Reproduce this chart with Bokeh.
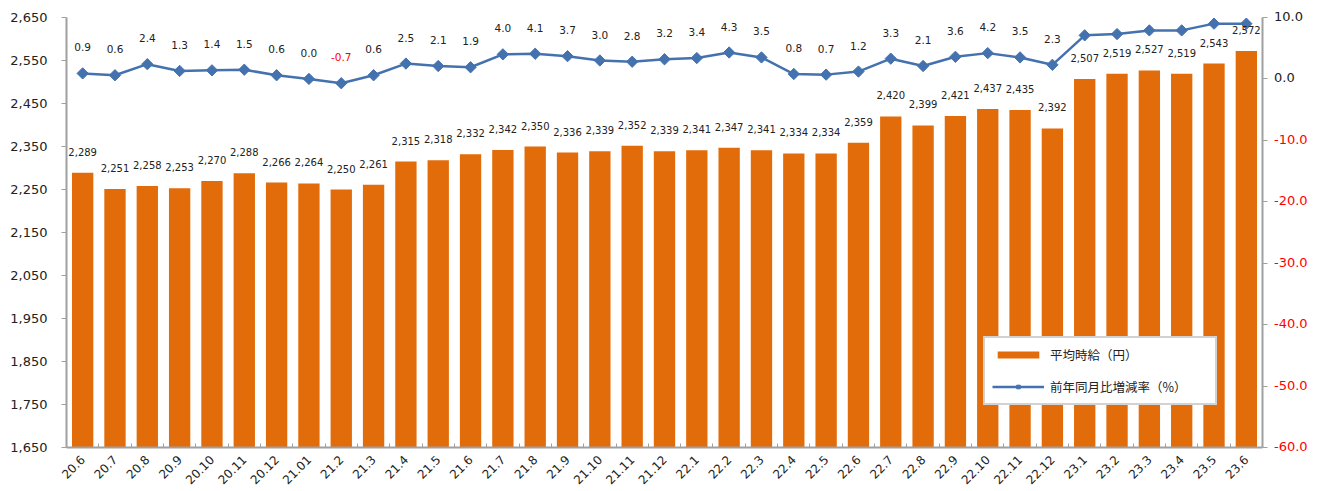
import math
from bokeh.plotting import figure
from bokeh.layouts import row
from bokeh.models import (Range1d, LinearAxis, FixedTicker, ColumnDataSource,
                          Legend, LegendItem, NumeralTickFormatter, Div)
from bokeh.core.properties import value
from bokeh.embed import file_html
from bokeh.resources import INLINE

months = ["20.6", "20.7", "20.8", "20.9", "20.10", "20.11", "20.12", "21.01", "21.2", "21.3",
          "21.4", "21.5", "21.6", "21.7", "21.8", "21.9", "21.10", "21.11", "21.12",
          "22.1", "22.2", "22.3", "22.4", "22.5", "22.6", "22.7", "22.8", "22.9", "22.10",
          "22.11", "22.12", "23.1", "23.2", "23.3", "23.4", "23.5", "23.6"]
wage = [2289, 2251, 2258, 2253, 2270, 2288, 2266, 2264, 2250, 2261,
        2315, 2318, 2332, 2342, 2350, 2336, 2339, 2352, 2339,
        2341, 2347, 2341, 2334, 2334, 2359, 2420, 2399, 2421, 2437,
        2435, 2392, 2507, 2519, 2527, 2519, 2543, 2572]
rate = [0.9, 0.6, 2.4, 1.3, 1.4, 1.5, 0.6, 0.0, -0.7, 0.6,
        2.5, 2.1, 1.9, 4.0, 4.1, 3.7, 3.0, 2.8, 3.2,
        3.4, 4.3, 3.5, 0.8, 0.7, 1.2, 3.3, 2.1, 3.6, 4.2,
        3.5, 2.3, 7.1, 7.3, 7.9, 7.9, 9.0, 9.0]
left_ticks = [1650, 1750, 1850, 1950, 2050, 2150, 2250, 2350, 2450, 2550, 2650]
right_ticks = [-60, -50, -40, -30, -20, -10, 0, 10]

FONT = "DejaVu Sans"
ORANGE = "#E36C0A"
BLUE = "#4472AE"
AXIS = "#A0A0A0"

R_MIN, R_MAX = -60, 10
FRAME_TOP, FRAME_H, TOTAL_H = 17, 430, 491

n = len(months)
xs = [i + 0.5 for i in range(n)]

src = ColumnDataSource(dict(
    x=xs, wage=wage, rate=rate,
    wage_lbl=[f"{w:,}" for w in wage],
    rate_lbl=[f"{r:.1f}" for r in rate],
    rate_col=["#FF0000" if r < 0 else "#222222" for r in rate],
))

p = figure(width=1270, height=TOTAL_H, output_backend="svg", toolbar_location=None,
           x_range=Range1d(0, n), y_range=Range1d(1650, 2650),
           min_border_left=66, min_border_right=8, min_border_top=FRAME_TOP,
           min_border_bottom=TOTAL_H - FRAME_TOP - FRAME_H)
p.outline_line_color = None
p.grid.visible = False
p.background_fill_color = "white"

p.extra_y_ranges = {"pct": Range1d(R_MIN, R_MAX)}

bars = p.vbar(x="x", top="wage", bottom=1650, width=0.66, source=src,
              fill_color=ORANGE, line_color=None)
line = p.line(x="x", y="rate", source=src, y_range_name="pct", line_color=BLUE, line_width=2.5)
pts = p.scatter(x="x", y="rate", source=src, y_range_name="pct", marker="square",
                angle=math.pi / 4, size=8, fill_color=BLUE, line_color=BLUE)

p.text(x="x", y="wage", text="wage_lbl", source=src, text_align="center",
       text_baseline="middle", y_offset=-21, text_font=value(FONT),
       text_font_size="10px", text_color="#222222")
p.text(x="x", y="rate", text="rate_lbl", source=src, y_range_name="pct",
       text_align="center", text_baseline="middle", y_offset=-26,
       text_font=value(FONT), text_font_size="10.5px", text_color="rate_col")

# left axis
ya = p.yaxis[0]
ya.ticker = FixedTicker(ticks=left_ticks)
ya.formatter = NumeralTickFormatter(format="0,0")
ya.axis_line_color = AXIS
ya.axis_line_width = 2
ya.major_tick_line_color = AXIS
ya.major_tick_in = 0
ya.major_tick_out = 5
ya.minor_tick_line_color = None
ya.major_label_text_font = FONT
ya.major_label_text_font_size = "13px"
ya.major_label_text_color = "#222222"
ya.major_label_standoff = 14

# x axis
xa = p.xaxis[0]
xa.ticker = FixedTicker(ticks=xs, minor_ticks=list(range(n + 1)))
xa.major_label_overrides = {x: m for x, m in zip(xs, months)}
xa.major_label_orientation = math.pi / 4
xa.axis_line_color = AXIS
xa.axis_line_width = 2
xa.major_tick_line_color = None
xa.minor_tick_line_color = AXIS
xa.minor_tick_in = 4
xa.minor_tick_out = 0
xa.major_label_text_font = FONT
xa.major_label_text_font_size = "12px"
xa.major_label_text_color = "#222222"
xa.major_label_standoff = 4

# right axis: line and ticks only (labels in the strip beside the plot)
ra = LinearAxis(y_range_name="pct", ticker=FixedTicker(ticks=right_ticks))
ra.major_label_overrides = {t: "" for t in right_ticks}
ra.axis_line_color = AXIS
ra.axis_line_width = 2
ra.major_tick_line_color = AXIS
ra.major_tick_in = 0
ra.major_tick_out = 5
ra.minor_tick_line_color = None
ra.major_label_text_font_size = "0px"
ra.major_label_standoff = 0
p.add_layout(ra, "right")

legend = Legend(items=[LegendItem(label="平均時給（円）", renderers=[bars]),
                       LegendItem(label="前年同月比増減率（%）", renderers=[line, pts])],
                location=(917, 42), orientation="vertical",
                label_text_font="Noto Sans CJK JP", label_text_font_size="12.5px",
                label_text_color="#222222",
                glyph_width=52, glyph_height=9, label_standoff=6, label_width=158,
                label_height=14, spacing=13, padding=7, margin=0,
                border_line_color="#A6A6A6", border_line_width=2,
                background_fill_color="white", background_fill_alpha=1.0)
p.add_layout(legend, "center")

# strip with the right-axis tick labels (negatives in red)
LINE_H = 16
spans = []
for t in right_ticks:
    y_px = FRAME_TOP + (R_MAX - t) / (R_MAX - R_MIN) * FRAME_H
    col = "#FF0000" if t < 0 else "#222222"
    spans.append(
        f'<span style="position:absolute;left:4px;top:{y_px - LINE_H / 2:.1f}px;'
        f"font-family:'{FONT}';font-size:13px;line-height:{LINE_H}px;"
        f'color:{col};white-space:nowrap;">{t:.1f}</span>')
strip = Div(text='<div style="position:relative;width:46px;height:%dpx;">%s</div>'
            % (TOTAL_H, "".join(spans)),
            width=46, height=TOTAL_H, margin=0)

layout = row(p, strip, spacing=0)
open("out.html", "w").write(file_html(layout, INLINE))
